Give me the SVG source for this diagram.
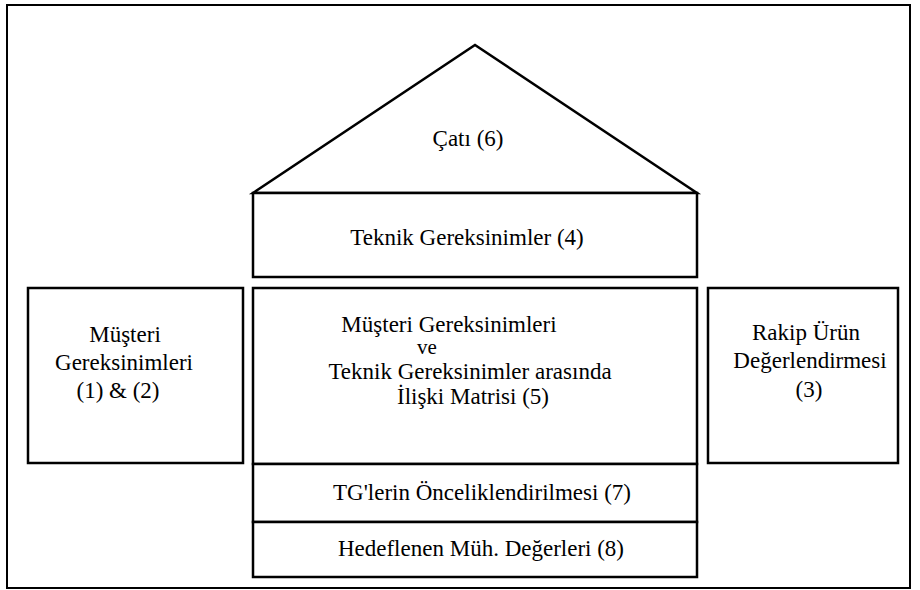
<svg xmlns="http://www.w3.org/2000/svg" width="920" height="590" viewBox="0 0 920 590">
<style>
.b{fill:#fff;stroke:#000;stroke-width:2.5}
</style>
<rect x="0" y="0" width="920" height="590" fill="#fff"/>
<rect id="frame" x="7" y="5" width="903" height="583" fill="none" stroke="#000" stroke-width="2"/>
<g font-family="Liberation Serif, Times New Roman, DejaVu Serif, serif" font-size="23" fill="#000" text-anchor="middle">
<g id="roof">
<polygon class="b" points="253,193 475,45 697,193"/>
<text x="468" y="146">Çatı (6)</text>
</g>
<g id="teknik">
<rect class="b" x="253" y="193" width="444" height="84"/>
<text x="467" y="245">Teknik Gereksinimler (4)</text>
</g>
<g id="musteri">
<rect class="b" x="28" y="288" width="215" height="175"/>
<text x="125" y="342">Müşteri</text>
<text x="124" y="370">Gereksinimleri</text>
<text x="118" y="398">(1) &amp; (2)</text>
</g>
<g id="matris">
<rect class="b" x="253" y="288" width="444" height="176"/>
<text x="449" y="332">Müşteri Gereksinimleri</text>
<text x="427" y="354" font-size="21">ve</text>
<text x="470" y="379">Teknik Gereksinimler arasında</text>
<text x="473" y="404">İlişki Matrisi (5)</text>
</g>
<g id="rakip">
<rect class="b" x="708" y="288" width="190" height="175"/>
<text x="806" y="340">Rakip Ürün</text>
<text x="810" y="368">Değerlendirmesi</text>
<text x="809" y="397">(3)</text>
</g>
<g id="oncelik">
<rect class="b" x="253" y="464" width="444" height="58"/>
<text x="482" y="500">TG'lerin Önceliklendirilmesi (7)</text>
</g>
<g id="hedef">
<rect class="b" x="253" y="522" width="444" height="55"/>
<text x="481" y="556">Hedeflenen Müh. Değerleri (8)</text>
</g>
</g>
<g id="connectors"></g>
</svg>
